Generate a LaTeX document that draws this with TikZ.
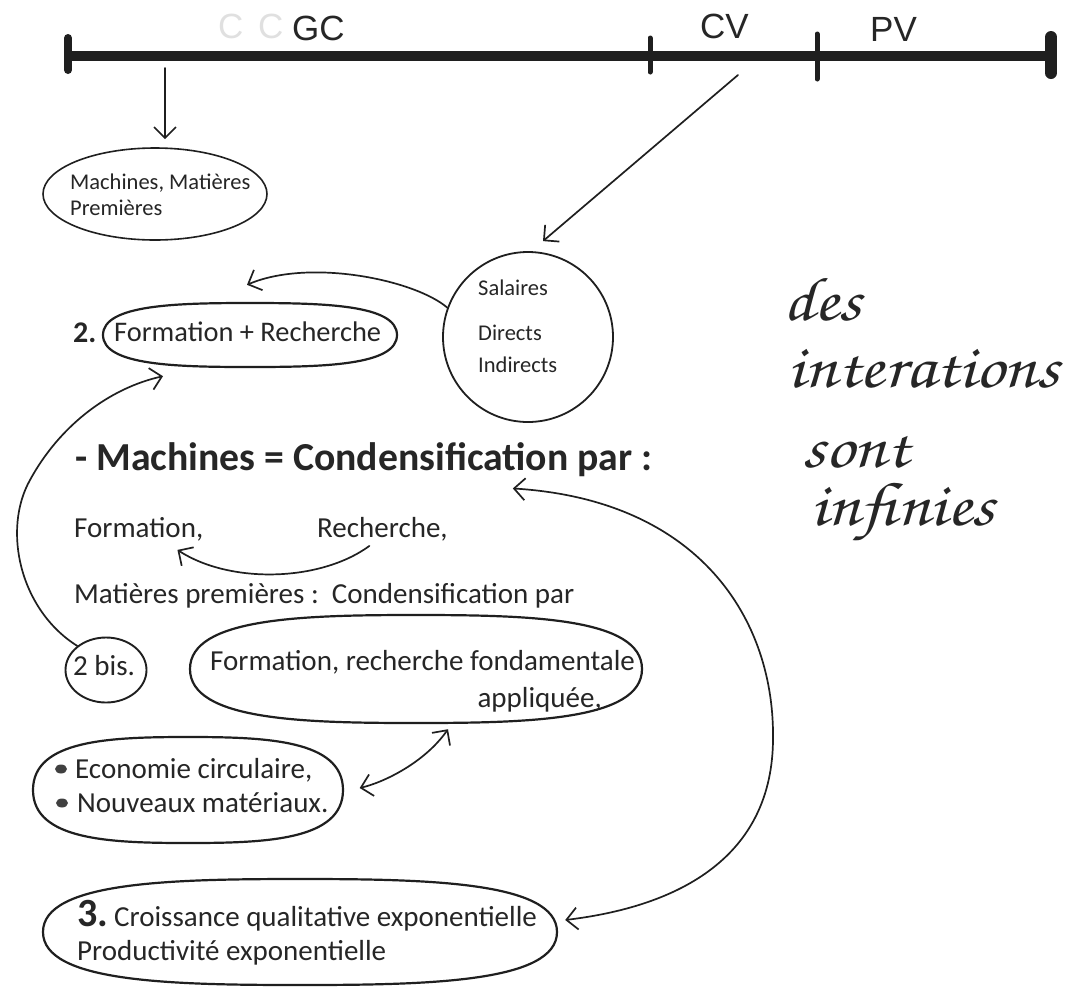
\documentclass[tikz,border=0pt]{standalone}
\usepackage[T1]{fontenc}
\usepackage{fontspec}
\setmainfont{Carlito}
\newfontfamily\hand{Liberation Sans}
\usetikzlibrary{arrows.meta,shapes.geometric,calc}
\newcommand{\fsz}[1]{\fontsize{#1}{#1}\selectfont}
\newcommand{\cursivefont}{\fontencoding{T1}\fontfamily{pzc}\fontseries{mb}\fontshape{it}\selectfont}
\newcommand{\wide}[1]{\scalebox{1.15}[1]{#1}}
% fat hand-drawn oval around a named node: \blob{node}{half width}{half height}
\newcommand{\blob}[3]{%
  \draw[blobline] ($(#1.center)+(-#2,0)$)
    .. controls ($(#1.center)+(-#2,-0.95*#3)$) and ($(#1.center)+(-0.5*#2,-#3)$) .. ($(#1.center)+(0,-#3)$)
    .. controls ($(#1.center)+(0.5*#2,-#3)$) and ($(#1.center)+(#2,-0.95*#3)$) .. ($(#1.center)+(#2,0)$)
    .. controls ($(#1.center)+(#2,0.95*#3)$) and ($(#1.center)+(0.5*#2,#3)$) .. ($(#1.center)+(0,#3)$)
    .. controls ($(#1.center)+(-0.5*#2,#3)$) and ($(#1.center)+(-#2,0.95*#3)$) .. cycle;}
\begin{document}
\begin{tikzpicture}[x=1pt,y=-1pt,
  ink/.style={draw=black!88, line width=1.7pt, line cap=round},
  barb/.style={-{Straight Barb[length=11pt,width=22pt,line width=1.7pt]}},
  dbarb/.style={{Straight Barb[length=11pt,width=22pt,line width=1.7pt]}-{Straight Barb[length=11pt,width=22pt,line width=1.7pt]}},
  oval/.style={ellipse, draw=black!88, line width=2.2pt, inner sep=0pt},
  blobline/.style={draw=black!88, line width=2.2pt, line join=round},
  slot/.style={rectangle, inner sep=0pt},
  thinoval/.style={ellipse, draw=black!88, line width=1.6pt, inner sep=0pt},
  txt/.style={inner sep=0pt, anchor=base west, text=black!85},
  body/.style={txt, font=\fsz{29}},
  small/.style={txt, font=\fsz{22.5}},
  handlbl/.style={inner sep=0pt, anchor=base west, font=\hand\fsz{35}, text=black!85},
  cursive/.style={inner sep=0pt, anchor=base west, font=\cursivefont\fsz{62}, text=black!85},
  bulletdot/.style={ellipse, fill=black!75, minimum width=12pt, minimum height=9pt, inner sep=0pt},
  tick/.style={draw=black!88, line cap=round},
]
\fill[white] (0,0) rectangle (1079,986);
\useasboundingbox (0,0) rectangle (1079,986);

% timeline
\coordinate (tl0) at (68,56);
\coordinate (tl1) at (1050,56);
\draw[black!88, line width=10pt] (tl0) -- (tl1);
\draw[tick, line width=8pt] (68,38) -- (68,70);
\draw[tick, line width=5pt] (650,38) -- (650,72);
\draw[tick, line width=5pt] (817,34) -- (817,79);
\draw[tick, line width=12pt] (1051,37) -- (1051,73);

% handwritten labels
\node[handlbl, text=black!12] (f1) at (218,38) {C};
\node[handlbl, text=black!12] (f2) at (258,38) {C};
\node[handlbl] (gc) at (292,40) {GC};
\node[handlbl] (cv) at (700,38) {CV};
\node[handlbl] (pv) at (870,41) {PV};

% shapes
\node[thinoval, minimum width=224pt, minimum height=92pt] (e1) at (155,194) {};
\node[circle, draw=black!88, line width=1.8pt, minimum size=170pt, inner sep=0pt] (sal) at (528,337) {};
\node[slot, minimum width=294pt, minimum height=64pt] (e2) at (250,335) {};
\blob{e2}{147}{32}
\node[oval, line width=1.9pt, minimum width=81pt, minimum height=65pt] (bis) at (106,670) {};
\node[slot, minimum width=451pt, minimum height=108pt] (e3) at (416,669) {};
\blob{e3}{226}{54}
\node[slot, minimum width=311pt, minimum height=106pt] (e4) at (188,790) {};
\blob{e4}{155}{53}
\node[slot, minimum width=514pt, minimum height=106pt] (e5) at (300,932) {};
\blob{e5}{257}{53}

% texts
\node[small] (t1a) at (70,189) {Machines, Matières};
\node[small] (t1b) at (70,215) {Premières};
\node[small] (s1) at (478,295) {Salaires};
\node[small] (s2) at (478,340) {Directs};
\node[small] (s3) at (478,372) {Indirects};
\node[txt, font=\bfseries\fsz{30}] (n2) at (73,342) {2.};
\node[txt, font=\fsz{28.4}] (fr) at (114,341) {Formation + Recherche};
\node[txt, font=\bfseries\fsz{39.7}] (head) at (75,470) {- Machines = Condensification par :};
\node[body] (form) at (74,537) {Formation,};
\node[body] (rech) at (317,537) {Recherche,};
\node[body] (mp) at (74,603) {Matières premières :\ \ Condensification par};
\node[body] (bist) at (73,675) {2 bis.};
\node[body] (fond) at (210,670) {Formation, recherche fondamentale};
\node[body, anchor=base east] (appl) at (602,707) {appliquée,};
\node[bulletdot] (b1) at (61,769) {};
\node[bulletdot] (b2) at (62,803) {};
\node[body] (eco) at (75,778) {Economie circulaire,};
\node[body] (nouv) at (77,812) {Nouveaux matériaux.};
\node[txt, font=\bfseries\fsz{40}] (n3) at (77,926) {3.};
\node[body] (crois) at (114,926) {Croissance qualitative exponentielle};
\node[body] (prod) at (77,960) {Productivité exponentielle};

% cursive note
\node[cursive] (c1) at (783,320) {\wide{des}};
\node[cursive] (c2) at (787,387) {\wide{interations}};
\node[cursive] (c3) at (802,467) {\wide{sont}};
\node[cursive] (c4) at (810,525) {\wide{infinies}};

% connectors
\coordinate (gcpt) at (165,68);
\coordinate (cvpt) at (738,75);
\draw[ink, barb] (gcpt) -- ($(e1.north)+(10,-8)$);
\draw[ink, barb] (cvpt) -- ($(sal.north)+(15,-10)$);
\draw[ink, barb] (sal.160) .. controls (415,280) and (310,258) .. ($(e2.north)+(-3,-18)$);
\draw[ink, barb] (bis.140) .. controls (20,610) and (2,530) .. (30,480)
   .. controls (60,425) and (110,388) .. ($(e2.south)+(-87,9)$);
\draw[ink, barb] ($(rech.south)+(-13,5)$) .. controls (320,582) and (230,584) .. ($(form.south east)+(-26,9)$);
\draw[ink, dbarb] ($(e4.east)+(16,-2)$) .. controls (385,782) and (425,762) .. ($(e3.south)+(32,6)$);
\draw[ink, dbarb] ($(head.south)+(149,12)$) .. controls (700,500) and (775,620) .. (773,740)
   .. controls (772,850) and (690,905) .. ($(e5.east)+(8,-12)$);
\end{tikzpicture}
\end{document}
